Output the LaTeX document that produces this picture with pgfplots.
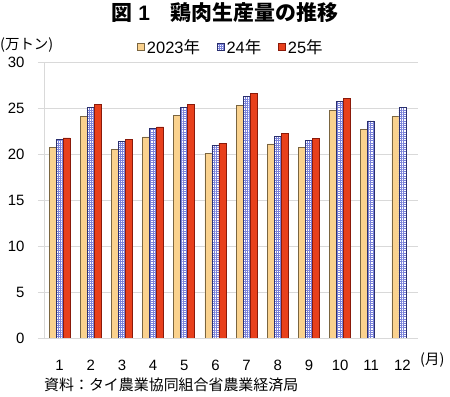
\documentclass[border=0pt]{standalone}
\usepackage{fontspec}
\setmainfont{Noto Sans CJK JP}
\newfontfamily\arial{Liberation Sans}
\usepackage{pgfplots}
\pgfplotsset{compat=1.18}
\usetikzlibrary{patterns}
\pgfdeclarepatternformonly{finegrid}{\pgfpoint{-1bp}{-1bp}}{\pgfpoint{2.2bp}{2.2bp}}{\pgfpoint{2.2bp}{2.2bp}}{%
  \pgfsetlinewidth{0.55bp}%
  \pgfpathmoveto{\pgfpoint{0bp}{1.1bp}}\pgfpathlineto{\pgfpoint{2.2bp}{1.1bp}}%
  \pgfpathmoveto{\pgfpoint{1.1bp}{0bp}}\pgfpathlineto{\pgfpoint{1.1bp}{2.2bp}}%
  \pgfusepath{stroke}}
\definecolor{c23}{HTML}{FAD28E}
\definecolor{c23e}{HTML}{7A6540}
\definecolor{c24e}{HTML}{2A2F6E}
\definecolor{c24p}{HTML}{7A82DA}
\definecolor{c25}{HTML}{E8401C}
\definecolor{c25e}{HTML}{8A1A0A}
\definecolor{gridc}{HTML}{D9D9D9}
\begin{document}
\begin{tikzpicture}
\useasboundingbox (0,0) rectangle (450bp,397bp);
\begin{axis}[
  at={(44bp,59bp)}, anchor=south west,
  scale only axis, width=374bp, height=276bp,
  xmin=0.5, xmax=12.5, ymin=0, ymax=30,
  ybar=0pt, bar width=7bp,
  xtick={1,...,12}, xticklabels={1,2,3,4,5,6,7,8,9,10,11,12},
  ytick={0,5,...,30}, yticklabels={0,5,10,15,20,25,30},
  ymajorgrids, grid style={gridc, line width=0.8bp},
  axis x line*=bottom, axis y line*=left,
  axis line style={gridc, line width=0.8bp, -},
  xtick style={draw=none},
  ytick style={gridc, line width=0.8bp},
  tick align=outside, major tick length=6bp,
  ticklabel style={font=\arial\fontsize{15}{17}\selectfont},
  yticklabel style={xshift=-10bp},
  xticklabel style={yshift=-13bp},
  legend style={at={(0.5,1)}, anchor=south, yshift=3bp, draw=none, fill=none,
    font=\fontsize{16.5}{18}\selectfont, legend columns=3,
    /tikz/every even column/.append style={column sep=15bp}},
  legend image code/.code={\draw[#1] (0bp,-3.5bp) rectangle (7bp,3.5bp);},
]
\addplot[fill=c23, draw=c23e, line width=0.6bp] coordinates {
(1,20.7) (2,24.1) (3,20.5) (4,21.85) (5,24.2) (6,20.1) (7,25.3) (8,21.1) (9,20.7) (10,24.75) (11,22.7) (12,24.1)};
\addplot[fill=white, draw=c24e, line width=0.6bp, postaction={pattern=finegrid, pattern color=c24p}] coordinates {
(1,21.55) (2,25.05) (3,21.35) (4,22.75) (5,25.1) (6,20.95) (7,26.25) (8,21.95) (9,21.5) (10,25.7) (11,23.6) (12,25.05)};
\addplot[fill=c25, draw=c25e, line width=0.6bp] coordinates {
(1,21.75) (2,25.35) (3,21.55) (4,22.95) (5,25.4) (6,21.15) (7,26.6) (8,22.2) (9,21.7) (10,26.0)};
\legend{{\arial 2023}年,{\arial 24}年,{\arial 25}年}
\end{axis}
\node[anchor=west, font=\fontsize{14.5}{16}\selectfont, inner sep=0pt] at (0bp,352bp) {(万トン)};
\node[anchor=west, font=\fontsize{14.5}{16}\selectfont, inner sep=0pt] at (420bp,37bp) {(月)};
\node[anchor=west, font=\fontsize{15}{17}\selectfont, inner sep=0pt] at (44bp,12bp) {資料：タイ農業協同組合省農業経済局};
\node[font=\fontsize{21}{23}\selectfont\bfseries, inner sep=0pt] at (225bp,384bp) {図{\arial\bfseries\ 1}　鶏肉生産量の推移};
\end{tikzpicture}
\end{document}
